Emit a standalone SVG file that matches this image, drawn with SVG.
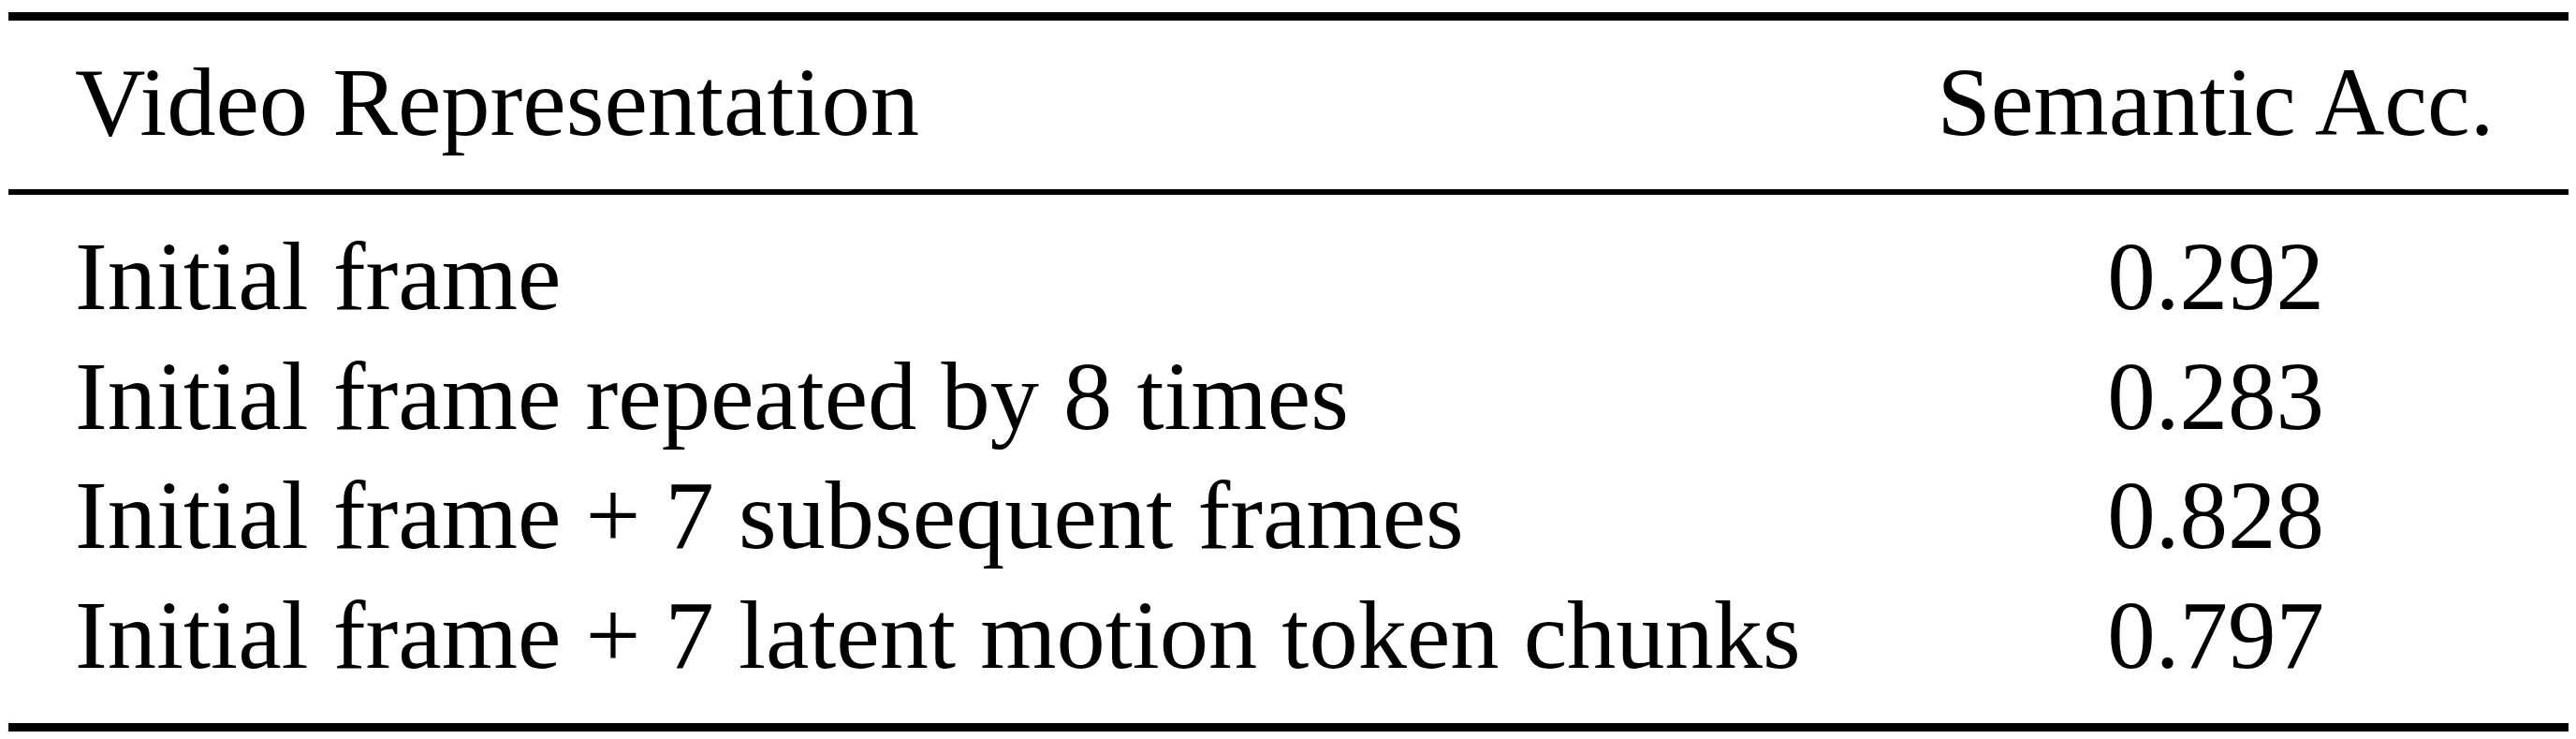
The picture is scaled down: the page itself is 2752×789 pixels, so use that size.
<svg xmlns="http://www.w3.org/2000/svg" width="2752" height="789" viewBox="0 0 2752 789">
<style>
text{font-family:"Liberation Serif","Times New Roman",serif;font-size:104.5px;fill:#000}
.num{text-anchor:middle;font-size:103px}
.rule{fill:#000}
</style>
<rect x="0" y="0" width="2752" height="789" fill="#fff"/>
<g id="rules">
<rect class="rule" x="9" y="13" width="2735" height="9"/>
<rect class="rule" x="9" y="202" width="2735" height="6"/>
<rect class="rule" x="9" y="772" width="2735" height="9"/>
</g>
<g id="header">
<text x="80" y="144">Video Representation</text>
<text class="num" x="2367" y="144">Semantic Acc.</text>
</g>
<g id="row1">
<text x="80" y="330">Initial frame</text>
<text class="num" x="2367" y="330">0.292</text>
</g>
<g id="row2">
<text x="80" y="458">Initial frame repeated by 8 times</text>
<text class="num" x="2367" y="458">0.283</text>
</g>
<g id="row3">
<text x="80" y="585">Initial frame + 7 subsequent frames</text>
<text class="num" x="2367" y="585">0.828</text>
</g>
<g id="row4">
<text x="80" y="713">Initial frame + 7 latent motion token chunks</text>
<text class="num" x="2367" y="713">0.797</text>
</g>
</svg>
